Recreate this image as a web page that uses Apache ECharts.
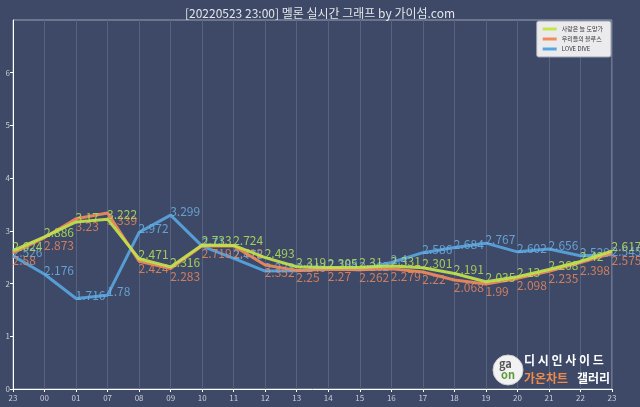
<!DOCTYPE html>
<html><head><meta charset="utf-8">
<script src="https://cdn.jsdelivr.net/npm/echarts@6/dist/echarts.min.js"></script>
<style>html,body{margin:0;padding:0;background:#3d4966;}#c{width:640px;height:407px;}</style>
</head><body><div id="c"></div>
<script>
const categories = ['23','00','01','07','08','09','10','11','12','13','14','15','16','17','18','19','20','21','22','23'];
const seriesNames = ['사랑은 늘 도망가','우리들의 블루스','LOVE DIVE'];
const green = [2.624,2.886,3.17,3.222,2.471,2.316,2.733,2.724,2.493,2.319,2.305,2.31,2.331,2.301,2.191,2.035,2.13,2.268,2.42,2.617];
const orange = [2.58,2.873,3.23,3.339,2.424,2.283,2.719,2.712,2.352,2.25,2.27,2.262,2.279,2.22,2.068,1.99,2.098,2.235,2.398,2.575];
const blue = [2.526,2.176,1.716,1.78,2.972,3.299,2.71,2.478,2.238,2.243,2.288,2.262,2.40,2.586,2.684,2.767,2.602,2.656,2.529,2.545];
const yTicks = [0,1,2,3,4,5,6];

const colors = ['#c4e64a','#f28c5c','#58a6e0'];
const labelColors = ['#b4e05a','#e8875f','#6cb0e4'];
const font = "'Noto Sans CJK KR','Noto Sans',sans-serif";
const chart = echarts.init(document.getElementById('c'));
function mk(name, data, color, lcolor, dy, z){
  return {
    name, type:'line', data, smooth:false, symbol:'circle', symbolSize:1, showSymbol:true, z,
    lineStyle:{color, width:3, opacity:0.9},
    itemStyle:{color},
    labelLayout:{hideOverlap:false},
    label:{show:true, position:[0, dy], align:'left', verticalAlign:'middle', color:lcolor, opacity:0.85,
      fontSize:12, fontFamily:font, formatter:p=>String(p.value)}
  };
}
chart.setOption({
  backgroundColor:'#3d4966',
  animation:false,
  title:{text:'[20220523 23:00] 멜론 실시간 그래프 by 가이섬.com', left:'center', top:2,
    textStyle:{color:'#e4e6ea', fontSize:12, fontWeight:'normal', fontFamily:font}},
  legend:{orient:'vertical', right:29, top:21, data:seriesNames, icon:'rect', itemWidth:14, itemHeight:3, itemGap:4,
    itemStyle:{opacity:1},
    backgroundColor:'#ebebee', borderColor:'#9aa0aa', borderWidth:1, borderRadius:2, padding:[5,8,5,6],
    textStyle:{color:'#333', fontSize:6, fontFamily:font}},
  grid:{left:13, right:28, top:20, bottom:18, show:true, borderColor:'#9aa2b4', borderWidth:1},
  xAxis:{type:'category', data:categories, boundaryGap:false,
    axisLine:{lineStyle:{color:'#ffffff', width:1}},
    axisTick:{show:true, alignWithLabel:true, length:3, lineStyle:{color:'#ffffff'}},
    axisLabel:{color:'#c9cdd6', fontSize:8, fontFamily:font, margin:5, interval:0},
    splitLine:{show:true, lineStyle:{color:'#56627e', width:1}}},
  yAxis:{type:'value', min:0, max:7, interval:1,
    axisLine:{show:true, lineStyle:{color:'#ffffff', width:1}},
    axisTick:{show:true, length:3, lineStyle:{color:'#ffffff'}},
    axisLabel:{color:'#c9cdd6', fontSize:8, fontFamily:font, margin:3, showMaxLabel:false,
      formatter:v=>yTicks.includes(v)?String(v):''},
    splitLine:{show:false}},
  series:[
    mk(seriesNames[2], blue, colors[2], labelColors[2], -3, 2),
    mk(seriesNames[1], orange, colors[1], labelColors[1], 8, 3),
    mk(seriesNames[0], green, colors[0], labelColors[0], -4, 4)
  ],
  graphic:[
    {type:'circle', shape:{cx:508, cy:370, r:15}, style:{fill:'#f2f2f2', stroke:'#cfcfcf', lineWidth:1}, z:10},
    {type:'text', left:499, top:358, style:{text:'ga', fill:'#555', font:"bold 11px "+font}, z:11},
    {type:'text', left:501, top:369, style:{text:'on', fill:'#5a9a3a', font:"bold 11px "+font}, z:11},
    {type:'text', left:524, top:354, style:{text:'디 시 인 사 이 드', fill:'#ffffff', font:"bold 12px "+font}, z:11},
    {type:'text', left:524, top:372, style:{text:'가온차트', fill:'#f08a4b', font:"bold 12px "+font}, z:11},
    {type:'text', left:577, top:372, style:{text:'갤러리', fill:'#ffffff', font:"bold 12px "+font}, z:11}
  ]
});
</script></body></html>
